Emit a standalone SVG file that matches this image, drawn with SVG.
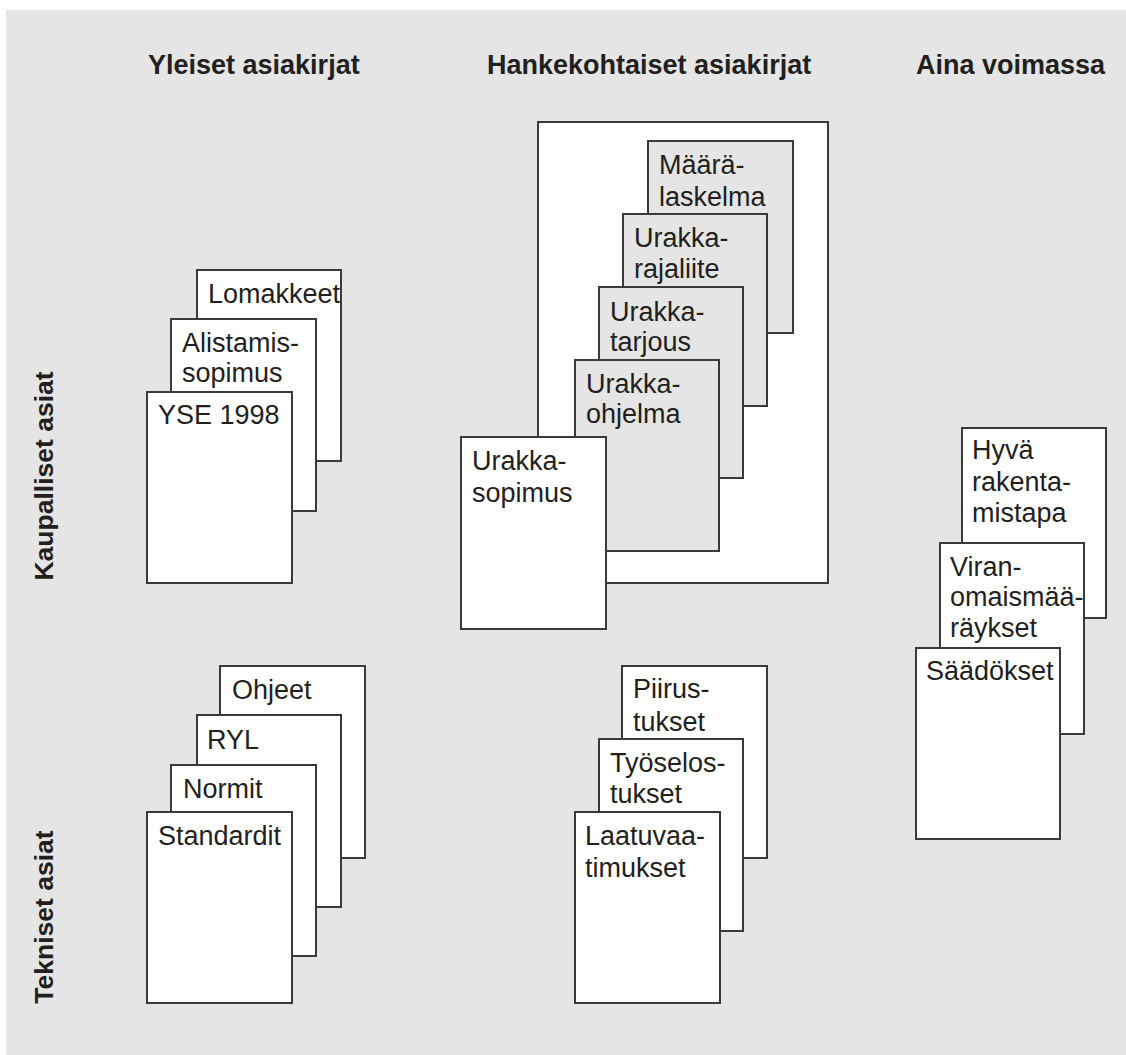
<svg xmlns="http://www.w3.org/2000/svg" width="1126" height="1055" viewBox="0 0 1126 1055">
<style>
.bg{fill:#e4e5e4}
.doc{fill:#ffffff;stroke:#3a3a3a;stroke-width:2}
.docg{fill:#e4e5e4;stroke:#3a3a3a;stroke-width:2}
.t{font-family:"Liberation Sans",Arial,sans-serif;font-size:27px;fill:#231f20}
.h{font-family:"Liberation Sans",Arial,sans-serif;font-size:27px;font-weight:bold;fill:#231f20}
.v{font-family:"Liberation Sans",Arial,sans-serif;font-size:26.5px;font-weight:bold;fill:#231f20;text-anchor:middle}
</style>
<rect x="0" y="0" width="1126" height="1055" fill="#ffffff"/>
<rect class="bg" x="6" y="10" width="1120" height="1045"/>

<g id="headers">
<text class="h" x="148" y="74">Yleiset asiakirjat</text>
<text class="h" x="487" y="74">Hankekohtaiset asiakirjat</text>
<text class="h" x="916" y="74">Aina voimassa</text>
<text class="v" transform="translate(53,476) rotate(-90)">Kaupalliset asiat</text>
<text class="v" transform="translate(53,917) rotate(-90)">Tekniset asiat</text>
</g>

<g id="connectors"></g>

<g id="yleiset-kaupalliset">
<g id="lomakkeet"><rect class="doc" x="197" y="270" width="144" height="191"/><text class="t" x="208" y="303">Lomakkeet</text></g>
<g id="alistamissopimus"><rect class="doc" x="171" y="319" width="145" height="192"/><text class="t" x="182" y="352">Alistamis-</text><text class="t" x="182" y="382">sopimus</text></g>
<g id="yse1998"><rect class="doc" x="147" y="392" width="145" height="191"/><text class="t" x="158" y="424">YSE 1998</text></g>
</g>

<g id="hanke-kaupalliset">
<g id="hanke-kehys"><rect class="doc" x="538" y="122" width="290" height="461"/></g>
<g id="maaralaskelma"><rect class="docg" x="648" y="141" width="145" height="192"/><text class="t" x="659" y="174">Määrä-</text><text class="t" x="659" y="206">laskelma</text></g>
<g id="urakkarajaliite"><rect class="docg" x="623" y="214" width="144" height="192"/><text class="t" x="634" y="247">Urakka-</text><text class="t" x="634" y="278">rajaliite</text></g>
<g id="urakkatarjous"><rect class="docg" x="599" y="287" width="144" height="191"/><text class="t" x="610" y="321">Urakka-</text><text class="t" x="610" y="351">tarjous</text></g>
<g id="urakkaohjelma"><rect class="docg" x="575" y="360" width="144" height="191"/><text class="t" x="586" y="393">Urakka-</text><text class="t" x="586" y="423">ohjelma</text></g>
<g id="urakkasopimus"><rect class="doc" x="461" y="437" width="145" height="192"/><text class="t" x="472" y="470">Urakka-</text><text class="t" x="472" y="502">sopimus</text></g>
</g>

<g id="yleiset-tekniset">
<g id="ohjeet"><rect class="doc" x="220" y="666" width="145" height="192"/><text class="t" x="232" y="699">Ohjeet</text></g>
<g id="ryl"><rect class="doc" x="197" y="715" width="144" height="192"/><text class="t" x="207" y="749">RYL</text></g>
<g id="normit"><rect class="doc" x="171" y="765" width="145" height="191"/><text class="t" x="183" y="798">Normit</text></g>
<g id="standardit"><rect class="doc" x="147" y="812" width="145" height="191"/><text class="t" x="158" y="845">Standardit</text></g>
</g>

<g id="hanke-tekniset">
<g id="piirustukset"><rect class="doc" x="622" y="666" width="145" height="192"/><text class="t" x="633" y="698">Piirus-</text><text class="t" x="633" y="731">tukset</text></g>
<g id="tyoselostukset"><rect class="doc" x="599" y="739" width="144" height="192"/><text class="t" x="610" y="772">Työselos-</text><text class="t" x="610" y="803">tukset</text></g>
<g id="laatuvaatimukset"><rect class="doc" x="575" y="812" width="145" height="191"/><text class="t" x="585" y="845">Laatuvaa-</text><text class="t" x="585" y="877">timukset</text></g>
</g>

<g id="aina-voimassa">
<g id="hyva-rakentamistapa"><rect class="doc" x="962" y="428" width="144" height="190"/><text class="t" x="972" y="459">Hyvä</text><text class="t" x="972" y="491">rakenta-</text><text class="t" x="972" y="522">mistapa</text></g>
<g id="viranomaismaaraykset"><rect class="doc" x="940" y="543" width="144" height="191"/><text class="t" x="950" y="576">Viran-</text><text class="t" x="950" y="606">omaismää-</text><text class="t" x="950" y="637">räykset</text></g>
<g id="saadokset"><rect class="doc" x="916" y="648" width="144" height="191"/><text class="t" x="926" y="680">Säädökset</text></g>
</g>
</svg>
